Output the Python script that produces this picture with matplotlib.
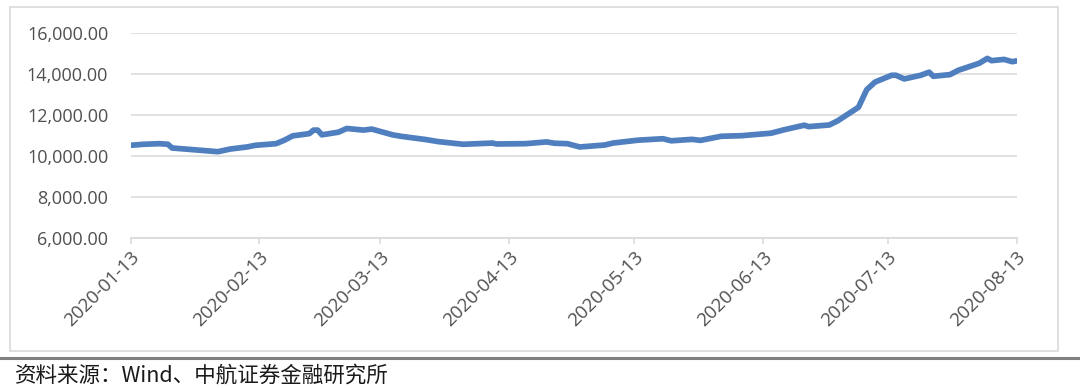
import matplotlib
matplotlib.use("Agg")
import matplotlib.pyplot as plt
import matplotlib.dates as mdates
from matplotlib.patches import Rectangle
from matplotlib.lines import Line2D
from matplotlib.ticker import FuncFormatter
import pandas as pd

# values
dates = [
    "2020-01-13", "2020-01-16", "2020-01-20", "2020-01-22", "2020-01-23",
    "2020-02-03", "2020-02-06", "2020-02-10", "2020-02-12", "2020-02-17",
    "2020-02-19", "2020-02-21", "2020-02-25", "2020-02-26", "2020-02-27",
    "2020-02-28", "2020-03-03", "2020-03-05", "2020-03-09", "2020-03-11",
    "2020-03-16", "2020-03-18", "2020-03-24", "2020-03-27", "2020-04-02",
    "2020-04-09", "2020-04-10", "2020-04-17", "2020-04-22", "2020-04-24",
    "2020-04-27", "2020-04-30", "2020-05-06", "2020-05-08", "2020-05-14",
    "2020-05-20", "2020-05-22", "2020-05-27", "2020-05-29", "2020-06-03",
    "2020-06-08", "2020-06-15", "2020-06-18", "2020-06-23", "2020-06-24",
    "2020-06-29", "2020-07-01", "2020-07-06", "2020-07-08", "2020-07-10",
    "2020-07-14", "2020-07-15", "2020-07-17", "2020-07-21", "2020-07-23",
    "2020-07-24", "2020-07-28", "2020-07-30", "2020-08-04", "2020-08-06",
    "2020-08-07", "2020-08-10", "2020-08-12", "2020-08-13",
]
values = [
    10510, 10560, 10590, 10560, 10380,
    10200, 10330, 10430, 10510, 10590,
    10760, 10970, 11080, 11250, 11250,
    11020, 11150, 11330, 11250, 11300,
    11020, 10950, 10790, 10690, 10560,
    10620, 10575, 10590, 10675, 10610,
    10590, 10430, 10525, 10620, 10760,
    10830, 10730, 10800, 10750, 10950,
    10980, 11100, 11260, 11490, 11420,
    11500, 11700, 12360, 13220, 13590,
    13920, 13920, 13740, 13920, 14070,
    13870, 13950, 14160, 14500, 14740,
    14630, 14690, 14580, 14620,
]
tick_dates = ["2020-01-13", "2020-02-13", "2020-03-13", "2020-04-13",
              "2020-05-13", "2020-06-13", "2020-07-13", "2020-08-13"]
y_ticks = [6000, 8000, 10000, 12000, 14000, 16000]
source = "资料来源：Wind、中航证券金融研究所"

W, H = 1080, 388
fig = plt.figure(figsize=(W / 100, H / 100), dpi=100)

# outer chart frame
fig.add_artist(Rectangle((10 / W, 1 - 351 / H), 1048 / W, 344 / H,
                         transform=fig.transFigure, fill=False,
                         edgecolor="#D9D9D9", linewidth=1.2))
# separator line above the source note
fig.add_artist(Line2D([0, 1], [1 - 358 / H, 1 - 358 / H],
                      transform=fig.transFigure, color="#808080", linewidth=2.2))

ax = fig.add_axes([130.5 / W, 1 - 238 / H, 886 / W, 205.5 / H])
x = pd.to_datetime(dates)
ax.plot(x, values, color="#4F7FBE", linewidth=4.1,
        solid_joinstyle="round", solid_capstyle="round", zorder=3)

ax.set_xlim(pd.Timestamp("2020-01-13"), pd.Timestamp("2020-08-13"))
ax.set_ylim(6000, 16000)
ax.set_yticks(y_ticks)
ax.yaxis.set_major_formatter(FuncFormatter(lambda v, p: f"{v:,.2f}"))
ax.set_xticks(pd.to_datetime(tick_dates))
ax.xaxis.set_major_formatter(mdates.DateFormatter("%Y-%m-%d"))

ax.grid(axis="y", color="#D9D9D9", linewidth=1.1, zorder=0)
for s in ("top", "right", "left"):
    ax.spines[s].set_visible(False)
ax.spines["bottom"].set_color("#D9D9D9")
ax.spines["bottom"].set_linewidth(1.2)
ax.spines["bottom"].set_zorder(1)

ax.tick_params(axis="y", length=0, pad=16, labelsize=13, labelcolor="#505050")
ax.tick_params(axis="x", direction="out", length=4, width=1.1, color="#D9D9D9",
               pad=3, labelsize=13.5, labelcolor="#505050")
for lab in ax.get_yticklabels() + ax.get_xticklabels():
    lab.set_fontfamily("Open Sans")
for lab in ax.get_xticklabels():
    lab.set_rotation(45)
    lab.set_ha("right")
    lab.set_va("top")
    lab.set_rotation_mode("anchor")

fig.text(15 / W, 1 - 376 / H, source, ha="left", va="center", fontsize=15.5,
         color="#1A1A1A", family=["Noto Sans CJK SC", "DejaVu Sans"])

fig.savefig("out.png", dpi=100)
